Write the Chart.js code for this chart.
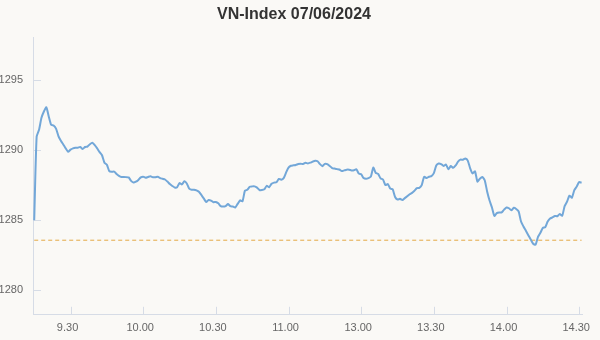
<!DOCTYPE html>
<html><head><meta charset="utf-8">
<script src="https://cdn.jsdelivr.net/npm/chart.js@4"></script>
<style>html,body{margin:0;padding:0;background:#faf9f6;}#wrap{width:600px;height:340px;}</style>
</head><body><div id="wrap"><canvas id="c" width="600" height="340"></canvas></div>
<script>
// VN-Index, one value per trading minute from 9:15 (lunch break removed)
const values = [
1285.00,1290.96,1291.45,1292.30,1292.75,1293.05,1292.40,1291.80,1291.75,1291.53,
1291.00,1290.67,1290.40,1290.12,1289.88,1290.03,1290.12,1290.17,1290.17,1290.22,
1290.08,1290.22,1290.25,1290.42,1290.52,1290.35,1290.12,1289.85,1289.63,1289.10,
1288.95,1288.50,1288.45,1288.46,1288.30,1288.16,1288.08,1288.08,1288.07,1288.05,
1287.80,1287.68,1287.74,1287.87,1288.05,1288.10,1288.03,1288.08,1288.13,1288.06,
1288.06,1288.10,1288.00,1287.95,1287.90,1287.75,1287.58,1287.44,1287.33,1287.35,
1287.65,1287.55,1287.77,1287.62,1287.25,1287.17,1287.17,1287.12,1287.02,1286.80,
1286.55,1286.30,1286.44,1286.40,1286.28,1286.30,1286.20,1286.00,1285.97,1286.00,
1286.15,1286.00,1285.97,1285.90,1286.16,1286.42,1286.35,1287.10,1287.17,1287.38,
1287.41,1287.41,1287.32,1287.15,1287.15,1287.20,1287.45,1287.35,1287.60,1287.68,
1287.70,1287.94,1287.89,1288.00,1288.40,1288.75,1288.88,1288.91,1288.94,1289.00,
1289.03,1289.00,1289.09,1289.05,1289.10,1289.18,1289.24,1289.20,1289.00,1288.85,
1289.02,1289.00,1288.87,1288.72,1288.68,1288.64,1288.61,1288.50,1288.55,1288.60,
1288.60,1288.55,1288.56,1288.63,1288.32,1288.27,1288.00,1287.95,1288.00,1288.10,
1288.75,1288.38,1288.30,1287.98,1287.90,1287.50,1287.58,1287.25,1287.20,1286.65,
1286.47,1286.52,1286.43,1286.57,1286.70,1286.85,1286.95,1287.10,1287.28,1287.30,
1287.50,1288.10,1288.00,1288.10,1288.14,1288.35,1288.90,1289.04,1289.00,1288.87,
1288.97,1288.63,1288.86,1288.73,1288.90,1289.17,1289.32,1289.31,1289.40,1289.25,
1288.70,1288.33,1288.48,1287.75,1287.96,1288.08,1287.85,1287.05,1286.40,1285.90,
1285.30,1285.50,1285.55,1285.55,1285.75,1285.90,1285.85,1285.70,1285.88,1285.80,
1285.62,1284.90,1284.55,1284.25,1283.93,1283.62,1283.32,1283.25,1283.80,1284.10,
1284.45,1284.50,1284.90,1285.12,1285.20,1285.30,1285.28,1285.44,1285.32,1286.00,
1286.32,1286.75,1286.60,1287.14,1287.40,1287.72,1287.67
];
const tickMinutes = [15, 45, 75, 105, 135, 165, 195, 225];
const tickLabels = ['9.30', '10.00', '10.30', '11.00', '13.00', '13.30', '14.00', '14.30'];
const yTickValues = [1280, 1285, 1290, 1295];
const prevClose = 1283.57;
const titleText = 'VN-Index 07/06/2024';

const AXIS = '#d6dce6';
const FONT = 'Liberation Sans, Arial, sans-serif';
const points = values.map((v, i) => ({x: i, y: v}));
const lastX = values.length - 1;
const yMin = Math.min(...values) - 5;
const yMax = Math.max(...values) + 5;

const tickMarks = {
  id: 'tickMarks',
  beforeDatasetsDraw(chart) {
    const {ctx, chartArea: a} = chart;
    const x = chart.scales.x, y = chart.scales.y;
    ctx.save();
    ctx.strokeStyle = AXIS;
    ctx.lineWidth = 1;
    ctx.beginPath();
    tickMinutes.forEach(m => {
      const px = Math.round(x.getPixelForValue(m)) + 0.5;
      ctx.moveTo(px, a.bottom);
      ctx.lineTo(px, a.bottom - 8);
    });
    yTickValues.forEach(v => {
      const py = Math.round(y.getPixelForValue(v)) + 0.5;
      ctx.moveTo(a.left, py);
      ctx.lineTo(a.left + 8, py);
    });
    ctx.stroke();
    ctx.restore();
  }
};

new Chart(document.getElementById('c'), {
  type: 'line',
  data: {
    datasets: [
      {data: points, borderColor: '#72a7d8', borderWidth: 2, pointRadius: 0, tension: 0.2, fill: false},
      {data: [{x: 0, y: prevClose}, {x: lastX, y: prevClose}], borderColor: '#e3a945', borderWidth: 1,
       borderDash: [4, 3], pointRadius: 0, fill: false}
    ]
  },
  options: {
    responsive: false,
    animation: false,
    devicePixelRatio: 1,
    layout: {padding: {top: 0, right: 12, bottom: -2, left: 0}},
    plugins: {
      legend: {display: false},
      tooltip: {enabled: false},
      title: {display: true, text: titleText, color: '#333', font: {family: FONT, size: 16, weight: 'bold'},
              padding: {top: 5, bottom: 13}}
    },
    scales: {
      x: {
        type: 'linear', min: -0.5, max: 226.4,
        grid: {display: false, drawTicks: false},
        border: {display: true, color: AXIS},
        afterBuildTicks: s => { s.ticks = tickMinutes.map(v => ({value: v})); },
        ticks: {padding: 7, labelOffset: -3, color: '#666', autoSkip: false, maxRotation: 0,
                font: {family: FONT, size: 11},
                callback: (v, i) => tickLabels[i]}
      },
      y: {
        min: yMin, max: yMax,
        grid: {display: false, drawTicks: false},
        border: {display: true, color: AXIS},
        afterFit: s => { s.width = 33; },
        afterBuildTicks: s => { s.ticks = yTickValues.map(v => ({value: v})); },
        ticks: {padding: 10, color: '#666', font: {family: FONT, size: 11}, callback: v => String(v)}
      }
    }
  },
  plugins: [tickMarks]
});
</script></body></html>
